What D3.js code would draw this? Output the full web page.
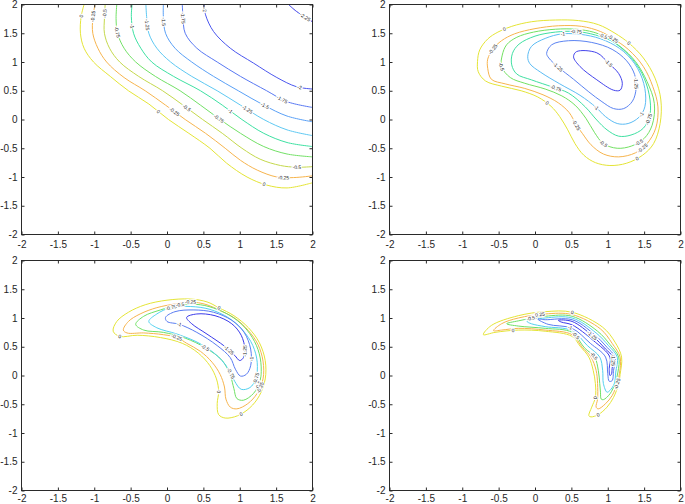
<!DOCTYPE html>
<html>
<head>
<meta charset="utf-8">
<script src="https://cdn.jsdelivr.net/npm/d3@7"></script>
<style>
  body { margin: 0; background: #fff; }
  svg { display: block; }
  text { font-family: "Liberation Sans", Arial, sans-serif; }
</style>
</head>
<body>
<div id="chart"></div>
<script>
// axis ticks shared by all four panels
const tickValues = [-2, -1.5, -1, -0.5, 0, 0.5, 1, 1.5, 2];

// ---- panel 1 (top left): open contours cut by the frame
const p1Levels = [0, -0.25, -0.5, -0.75, -1, -1.25, -1.5, -1.75, -2, -2.25];
const p1Lines = [
  [[-1.14,2.00],[-1.18,1.79],[-1.19,1.50],[-1.14,1.24],[-1.01,1.00],[-0.78,0.75],[-0.53,0.50],[-0.25,0.27],[0.02,0.00],[0.30,-0.24],[0.59,-0.50],[0.82,-0.76],[1.10,-1.00],[1.37,-1.14],[1.65,-1.19],[2.0,-1.10]],
  [[-0.99,2.00],[-1.02,1.76],[-1.02,1.50],[-0.95,1.24],[-0.83,1.00],[-0.59,0.73],[-0.30,0.50],[-0.02,0.25],[0.25,0.00],[0.53,-0.24],[0.80,-0.50],[1.01,-0.71],[1.24,-0.88],[1.51,-1.00],[1.74,-1.01],[2.0,-0.98]],
  [[-0.85,2.00],[-0.86,1.76],[-0.86,1.50],[-0.79,1.24],[-0.65,1.00],[-0.39,0.75],[-0.06,0.50],[0.22,0.25],[0.49,0.00],[0.76,-0.24],[1.03,-0.50],[1.28,-0.69],[1.56,-0.80],[1.78,-0.83],[2.0,-0.82]],
  [[-0.69,2.00],[-0.70,1.76],[-0.68,1.50],[-0.59,1.24],[-0.43,1.00],[-0.16,0.75],[0.18,0.50],[0.46,0.25],[0.73,0.00],[1.01,-0.24],[1.33,-0.47],[1.65,-0.60],[2.0,-0.65]],
  [[-0.48,2.00],[-0.49,1.79],[-0.46,1.50],[-0.36,1.24],[-0.21,1.00],[0.09,0.75],[0.46,0.50],[0.76,0.25],[1.03,0.00],[1.33,-0.24],[1.65,-0.40],[2.0,-0.47]],
  [[-0.29,2.00],[-0.28,1.79],[-0.25,1.50],[-0.14,1.24],[0.05,1.00],[0.34,0.75],[0.69,0.50],[1.01,0.25],[1.33,0.00],[1.65,-0.18],[2.0,-0.28]],
  [[-0.05,2.00],[-0.05,1.79],[-0.02,1.50],[0.11,1.24],[0.34,1.00],[0.64,0.75],[0.98,0.50],[1.33,0.25],[1.65,0.06],[2.0,-0.04]],
  [[0.21,2.00],[0.22,1.79],[0.25,1.50],[0.41,1.24],[0.69,1.00],[1.01,0.75],[1.37,0.50],[1.65,0.31],[2.0,0.21]],
  [[0.51,2.00],[0.53,1.82],[0.64,1.53],[0.87,1.24],[1.19,0.98],[1.51,0.73],[1.78,0.57],[2.0,0.53]],
  [[1.67,2.00],[1.78,1.88],[2.0,1.70]]
];
const p1Labels = [
  [0,-1.18,1.80],[-0.25,-1.03,1.79],[-0.5,-0.87,1.85],[-0.75,-0.64,1.53],[-1,-0.47,1.62],
  [-1.25,-0.24,1.65],[-1.5,-0.05,1.70],[-1.75,0.21,1.76],[-2,0.51,1.91],[-2.25,1.91,1.79],
  [0,-0.11,0.15],[-0.25,0.11,0.15],[-0.5,0.28,0.21],[-0.75,0.73,0.05],[-1,0.87,0.14],
  [-1.25,1.10,0.15],[-1.5,1.33,0.21],[-1.75,1.56,0.30],[-2,1.82,0.51],
  [-0.5,1.78,-0.87],[-0.25,1.60,-1.02],[0,1.33,-1.13]
];

// ---- panel 2 (top right): closed loops
const p2Levels = [0, -0.25, -0.5, -0.75, -1, -1.25, -1.5];
const p2Lines = [
  [[-0.78,0.83],[-0.79,1.01],[-0.76,1.21],[-0.65,1.40],[-0.51,1.52],[-0.32,1.62],[-0.05,1.70],[0.28,1.73],[0.60,1.72],[0.87,1.65],[1.10,1.50],[1.29,1.33],[1.49,1.07],[1.65,0.72],[1.73,0.34],[1.72,-0.07],[1.63,-0.42],[1.48,-0.62],[1.26,-0.76],[1.03,-0.80],[0.83,-0.75],[0.67,-0.62],[0.55,-0.42],[0.45,-0.18],[0.34,0.05],[0.22,0.23],[0.04,0.39],[-0.19,0.50],[-0.46,0.58],[-0.68,0.67]],
  [[-0.65,0.89],[-0.65,1.05],[-0.58,1.22],[-0.46,1.37],[-0.28,1.49],[0,1.58],[0.32,1.63],[0.64,1.62],[0.90,1.53],[1.07,1.41],[1.29,1.21],[1.49,0.92],[1.62,0.57],[1.69,0.22],[1.66,-0.15],[1.54,-0.42],[1.38,-0.58],[1.15,-0.65],[0.94,-0.60],[0.77,-0.44],[0.65,-0.24],[0.57,-0.10],[0.47,0.12],[0.32,0.29],[0.11,0.43],[-0.14,0.54],[-0.41,0.62],[-0.60,0.70]],
  [[-0.46,0.92],[-0.45,1.12],[-0.39,1.30],[-0.25,1.43],[-0.02,1.52],[0.28,1.57],[0.57,1.57],[0.80,1.52],[0.94,1.45],[1.17,1.27],[1.38,1.01],[1.54,0.66],[1.64,0.28],[1.61,-0.10],[1.50,-0.33],[1.33,-0.46],[1.13,-0.50],[0.94,-0.42],[0.82,-0.23],[0.70,0.02],[0.55,0.25],[0.37,0.41],[0.14,0.53],[-0.14,0.63],[-0.34,0.73]],
  [[-0.32,0.95],[-0.31,1.15],[-0.22,1.31],[0,1.45],[0.28,1.52],[0.57,1.53],[0.83,1.47],[1.06,1.36],[1.29,1.12],[1.47,0.80],[1.57,0.43],[1.58,0.08],[1.49,-0.15],[1.32,-0.27],[1.15,-0.29],[0.99,-0.18],[0.85,-0.01],[0.69,0.22],[0.46,0.46],[0.25,0.56],[-0.05,0.69],[-0.25,0.79]],
  [[-0.10,1.09],[-0.05,1.27],[0.14,1.41],[0.38,1.49],[0.69,1.47],[0.97,1.37],[1.22,1.18],[1.41,0.89],[1.51,0.54],[1.51,0.22],[1.43,0.04],[1.28,-0.07],[1.13,-0.07],[0.97,0.05],[0.84,0.21],[0.62,0.42],[0.34,0.62],[0.08,0.82],[-0.07,0.97]],
  [[0.16,1.15],[0.23,1.30],[0.46,1.37],[0.78,1.34],[1.06,1.22],[1.26,1.02],[1.37,0.78],[1.39,0.54],[1.34,0.32],[1.22,0.19],[1.08,0.19],[0.92,0.31],[0.74,0.48],[0.53,0.70],[0.32,0.91],[0.19,1.07]],
  [[0.57,1.18],[0.85,1.16],[1.01,0.98],[1.15,0.80],[1.20,0.63],[1.17,0.51],[1.08,0.51],[0.85,0.69],[0.62,0.92],[0.53,1.09]]
];
const p2Labels = [
  [0,-0.41,1.53],[-0.25,-0.58,1.22],[-0.5,-0.43,0.93],[-1,0.38,1.49],[-0.75,0.57,1.53],
  [-0.5,0.94,1.45],[-0.25,1.07,1.41],[0,1.29,1.32],[-1.25,0.32,0.92],[-1.5,1.01,0.98],
  [-1.25,1.37,0.63],[-0.75,0.29,0.54],[-1,0.84,0.21],[-1,1.43,0.12],[-0.75,1.49,0.04],
  [-0.5,1.40,-0.33],[-0.25,1.44,-0.44],[-0.25,0.57,-0.10],[-0.5,0.94,-0.42],
  [0,0.16,0.27],[0,1.38,-0.62]
];

// ---- panel 3 (bottom left): crescent loops
const p3Levels = [0, -0.25, -0.5, -0.75, -1, -1.25];
const p3Lines = [
  [[-0.74,0.77],[-0.69,0.94],[-0.53,1.10],[-0.30,1.23],[0,1.31],[0.32,1.33],[0.55,1.28],[0.71,1.18],[0.92,1.04],[1.12,0.83],[1.27,0.57],[1.35,0.26],[1.35,-0.06],[1.27,-0.35],[1.14,-0.56],[0.97,-0.70],[0.80,-0.74],[0.71,-0.68],[0.69,-0.49],[0.71,-0.28],[0.68,-0.06],[0.59,0.17],[0.43,0.39],[0.21,0.56],[-0.09,0.66],[-0.41,0.70],[-0.65,0.68]],
  [[-0.60,0.79],[-0.53,0.94],[-0.37,1.07],[-0.14,1.18],[0.14,1.25],[0.32,1.28],[0.55,1.23],[0.73,1.13],[0.94,0.99],[1.12,0.78],[1.25,0.54],[1.32,0.25],[1.32,-0.06],[1.24,-0.31],[1.11,-0.49],[0.96,-0.58],[0.87,-0.55],[0.81,-0.41],[0.79,-0.20],[0.73,0.02],[0.62,0.23],[0.46,0.42],[0.27,0.56],[0.14,0.66],[-0.05,0.71],[-0.32,0.74],[-0.55,0.74]],
  [[-0.43,0.89],[-0.32,1.03],[-0.09,1.14],[0.18,1.23],[0.46,1.23],[0.69,1.15],[0.92,1.00],[1.10,0.79],[1.23,0.52],[1.29,0.23],[1.28,-0.09],[1.19,-0.31],[1.05,-0.43],[0.96,-0.40],[0.92,-0.23],[0.87,0.00],[0.76,0.26],[0.53,0.48],[0.25,0.65],[-0.05,0.75],[-0.32,0.79]],
  [[-0.25,0.94],[-0.14,1.07],[0.05,1.18],[0.32,1.20],[0.59,1.15],[0.85,1.00],[1.04,0.79],[1.18,0.52],[1.24,0.23],[1.22,-0.06],[1.14,-0.21],[1.02,-0.24],[0.93,-0.10],[0.86,0.08],[0.71,0.32],[0.46,0.55],[0.14,0.72],[-0.14,0.83]],
  [[-0.02,1.01],[0.11,1.11],[0.37,1.14],[0.64,1.10],[0.89,0.96],[1.06,0.75],[1.15,0.46],[1.15,0.17],[1.09,0.02],[1.01,-0.01],[0.94,0.11],[0.87,0.31],[0.69,0.52],[0.41,0.75],[0.17,0.89],[0,0.94]],
  [[0.27,1.01],[0.41,1.07],[0.66,1.04],[0.89,0.90],[1.02,0.70],[1.07,0.46],[1.05,0.31],[1.00,0.26],[0.93,0.35],[0.79,0.51],[0.55,0.72],[0.34,0.90]]
];
const p3Labels = [
  [-0.75,0.05,1.19],[-0.5,0.18,1.26],[-0.25,0.32,1.28],[0,0.71,1.16],[-1,0.17,0.90],
  [-0.25,0.14,0.70],[-0.5,0.53,0.48],[-1.25,0.85,0.43],[-1.25,1.04,0.43],[-1,1.14,0.29],
  [-0.75,0.87,0.03],[-0.75,1.19,-0.03],[-0.5,1.21,-0.14],[-0.25,1.26,-0.20],
  [0,0.71,-0.28],[0,1.00,-0.64],[0,-0.65,0.68]
];

// ---- panel 4 (bottom right): thin crescent loops
const p4Levels = [0, -0.25, -0.5, -0.75, -1, -1.25];
const p4Lines = [
  [[-0.71,0.71],[-0.60,0.87],[-0.23,1.04],[0.14,1.11],[0.51,1.10],[0.93,0.84],[1.10,0.58],[1.19,0.32],[1.17,0.02],[1.15,-0.14],[1.08,-0.38],[0.99,-0.55],[0.87,-0.68],[0.77,-0.72],[0.74,-0.70],[0.78,-0.55],[0.83,-0.38],[0.83,-0.14],[0.80,0.09],[0.74,0.32],[0.62,0.51],[0.51,0.68],[0.14,0.77],[-0.23,0.79],[-0.55,0.75]],
  [[-0.57,0.78],[-0.46,0.90],[-0.23,1.00],[0.14,1.07],[0.51,1.06],[0.90,0.81],[1.06,0.56],[1.17,0.32],[1.16,0.03],[1.13,-0.14],[1.06,-0.35],[0.97,-0.49],[0.87,-0.58],[0.84,-0.55],[0.86,-0.41],[0.86,-0.14],[0.84,0.09],[0.77,0.32],[0.65,0.49],[0.51,0.71],[0.14,0.79],[-0.23,0.82],[-0.46,0.79]],
  [[-0.39,0.90],[-0.23,0.95],[0.14,1.03],[0.51,1.03],[0.86,0.77],[1.03,0.54],[1.15,0.32],[1.14,0.06],[1.10,-0.14],[1.03,-0.32],[0.94,-0.42],[0.91,-0.41],[0.90,-0.29],[0.89,-0.14],[0.87,0.09],[0.82,0.32],[0.68,0.48],[0.51,0.75],[0.14,0.82],[-0.23,0.86]],
  [[-0.11,0.94],[0.14,1.00],[0.51,1.00],[0.84,0.74],[1.01,0.52],[1.13,0.32],[1.11,0.06],[1.09,-0.14],[1.03,-0.26],[0.99,-0.29],[0.94,-0.14],[0.93,0.09],[0.89,0.32],[0.72,0.52],[0.51,0.78],[0.14,0.85],[-0.05,0.90]],
  [[0.04,0.98],[0.14,0.97],[0.51,0.97],[0.81,0.72],[0.99,0.49],[1.10,0.32],[1.08,0.09],[1.06,-0.09],[1.02,-0.10],[1.00,0.03],[0.97,0.32],[0.76,0.56],[0.51,0.82],[0.18,0.89]],
  [[0.32,0.96],[0.51,0.94],[0.79,0.69],[0.97,0.46],[1.07,0.32],[1.06,0.12],[1.05,0.02],[1.03,0.00],[1.02,0.12],[1.03,0.32],[0.80,0.61],[0.51,0.88],[0.36,0.93]]
];
const p4Labels = [
  [0,-0.30,0.81],[-0.5,-0.05,1.10],[-0.25,0.05,1.13],[0,0.51,1.07],[-0.5,-0.05,0.94],
  [-1,0.47,0.79],[-1.25,0.80,0.72],[-0.5,0.53,0.66],[-0.5,0.80,0.33],[-1.25,1.08,0.26],
  [-0.25,1.13,-0.14],[0,0.82,-0.38],[0,0.86,-0.67]
];

// line colours per panel (outer level first)
const colorsP1 = ["#e4e436","#f6b44e","#c4d84c","#72e066","#3ee0a2","#5ec8f2","#5aa0f6","#5878f2","#4a56ee","#3636e6"];
const colorsP2 = ["#e4e436","#f6b44e","#72e062","#40e0a2","#5cbcf4","#5c84f2","#4444ec"];
const colorsP34 = ["#e4e436","#f6b44e","#6ee064","#52d0ee","#5a7cf2","#3a3aea"];

const W = 685, H = 504;
const pw = 291, ph = 230;

const panels = [
  { left: 21.5,  top: 4.5,   levels: p1Levels, lines: p1Lines, labels: p1Labels, closed: false, colors: colorsP1, xpad: 6 },
  { left: 389.5, top: 4.5,   levels: p2Levels, lines: p2Lines, labels: p2Labels, closed: true,  colors: colorsP2, xpad: 6 },
  { left: 21.5,  top: 260.5, levels: p3Levels, lines: p3Lines, labels: p3Labels, closed: true,  colors: colorsP34, xpad: 4 },
  { left: 389.5, top: 260.5, levels: p4Levels, lines: p4Lines, labels: p4Labels, closed: true,  colors: colorsP34, xpad: 4 }
];

const svg = d3.select("#chart").append("svg")
  .attr("width", W)
  .attr("height", H);

const fmt = d => String(d);

function placeLabel(g, node, px, py, txt) {
  const L = node.getTotalLength();
  let best = null, bd = Infinity, bl = 0;
  for (let l = 0; l <= L; l += 0.75) {
    const p = node.getPointAtLength(l);
    const d = (p.x - px) ** 2 + (p.y - py) ** 2;
    if (d < bd) { bd = d; best = p; bl = l; }
  }
  const a = node.getPointAtLength(Math.max(0, bl - 3));
  const b = node.getPointAtLength(Math.min(L, bl + 3));
  let ang = Math.atan2(b.y - a.y, b.x - a.x) * 180 / Math.PI;
  if (ang > 90) ang -= 180;
  if (ang < -90) ang += 180;
  g.append("text")
    .attr("transform", `translate(${best.x},${best.y}) rotate(${ang})`)
    .attr("text-anchor", "middle")
    .attr("dy", "0.35em")
    .style("font-size", "5px")
    .style("fill", "#222")
    .style("stroke", "#fff")
    .style("stroke-width", 2.2)
    .style("paint-order", "stroke")
    .text(txt);
}

panels.forEach((f, i) => {
  const x = d3.scaleLinear().domain([-2, 2]).range([f.left, f.left + pw]);
  const y = d3.scaleLinear().domain([-2, 2]).range([f.top + ph, f.top]);
  const g = svg.append("g");

  g.append("clipPath").attr("id", "clip" + i)
    .append("rect")
    .attr("x", f.left).attr("y", f.top)
    .attr("width", pw).attr("height", ph);

  const line = d3.line()
    .x(d => x(d[0]))
    .y(d => y(d[1]))
    .curve(f.closed ? d3.curveCatmullRomClosed.alpha(0.5) : d3.curveCatmullRom.alpha(0.5));

  const lg = g.append("g").attr("clip-path", `url(#clip${i})`);
  const nodes = {};
  f.lines.forEach((pts, k) => {
    const p = lg.append("path")
      .attr("d", line(pts))
      .attr("fill", "none")
      .attr("stroke", f.colors[k])
      .attr("stroke-width", 1);
    nodes[f.levels[k]] = p.node();
  });

  const tg = g.append("g");
  f.labels.forEach(([lev, lx, ly]) => {
    placeLabel(tg, nodes[lev], x(lx), y(ly), fmt(lev));
  });

  // frame and inward ticks on all four sides
  g.append("rect")
    .attr("x", f.left).attr("y", f.top)
    .attr("width", pw).attr("height", ph)
    .attr("fill", "none")
    .attr("stroke", "#2a2a2a")
    .attr("stroke-width", 1);

  const axes = [
    { ax: d3.axisBottom(x), tr: `translate(0,${f.top + ph})`, lab: true, pad: f.xpad },
    { ax: d3.axisTop(x), tr: `translate(0,${f.top})`, lab: false, pad: 0 },
    { ax: d3.axisLeft(y), tr: `translate(${f.left},0)`, lab: true, pad: 4 },
    { ax: d3.axisRight(y), tr: `translate(${f.left + pw},0)`, lab: false, pad: 0 }
  ];
  axes.forEach(a => {
    const ag = g.append("g")
      .attr("transform", a.tr)
      .call(a.ax.tickValues(tickValues)
        .tickSizeInner(-3).tickSizeOuter(0)
        .tickPadding(a.pad)
        .tickFormat(a.lab ? fmt : ""));
    ag.select(".domain").remove();
    ag.selectAll(".tick line").attr("stroke", "#2a2a2a");
    ag.selectAll(".tick text")
      .style("font-size", "10px")
      .style("font-family", "'Liberation Sans', Arial, sans-serif")
      .attr("fill", "#262626");
  });
});
</script>
</body>
</html>
